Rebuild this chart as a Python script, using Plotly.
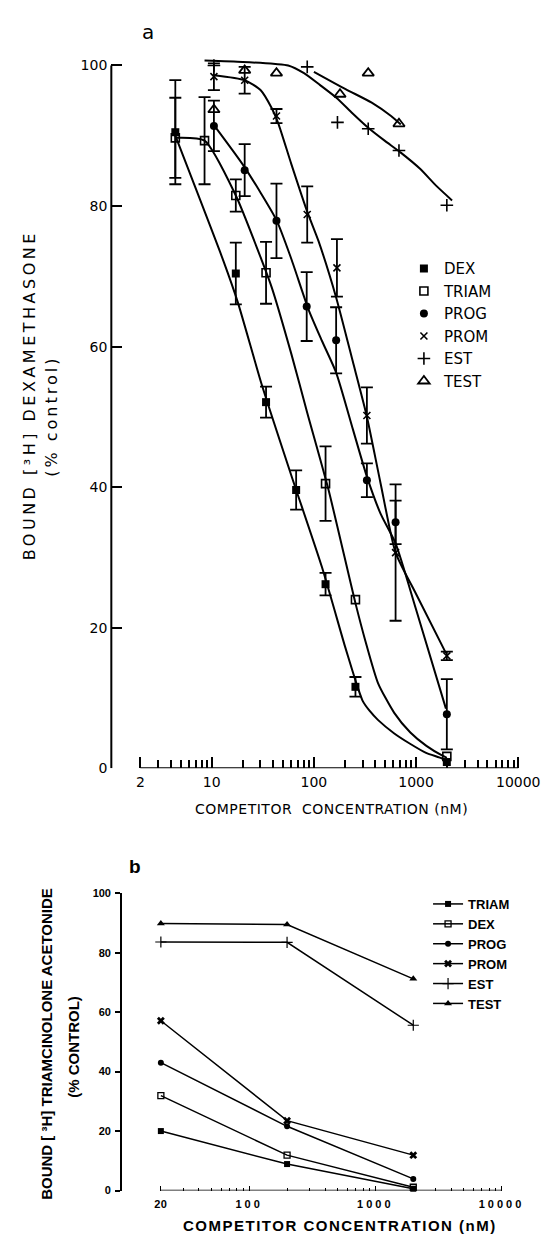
import math
import plotly.graph_objects as go

W, H = 553, 1236

# ---------------- Panel a : competitor vs [3H] dexamethasone ----------------
# measured points (nM, % control); error arrays may be shorter (trailing points w/o bars)
DEX_X = [4.4, 17.2, 34, 67, 130, 255, 2000]
DEX_Y = [90.5, 70.4, 52.1, 39.6, 26.2, 11.6, 0.9]
DEX_ERR = [7.4, 4.4, 2.2, 2.8, 1.6, 1.4]

TRIAM_X = [4.4, 8.5, 17.2, 34, 130, 255, 2000]
TRIAM_Y = [89.7, 89.3, 81.5, 70.5, 40.5, 24.0, 1.7]
TRIAM_ERR = [5.7, 6.2, 2.3, 4.4, 5.3]

PROG_X = [10.5, 21, 43, 85, 165, 330, 630, 2000]
PROG_Y = [91.4, 85.1, 77.9, 65.7, 60.9, 41.0, 35.0, 7.7]
PROG_ERR = [3.6, 3.7, 5.3, 4.9, 4.7, 2.4, 3.1, 5.0]

PROM_X = [10.5, 21, 43, 86, 168, 330, 630, 2000]
PROM_Y = [98.4, 97.9, 92.8, 78.8, 71.2, 50.2, 30.7, 16.0]
PROM_ERR = [1.9, 1.9, 1.0, 4.0, 4.1, 4.0, 9.7, 0.6]

EST_X = [10.5, 86, 170, 340, 680, 2000]
EST_Y = [100.0, 99.8, 91.9, 91.0, 87.9, 80.1]

TEST_X = [10.5, 21, 43, 180, 340, 680]
TEST_Y = [93.7, 99.3, 98.9, 95.9, 98.9, 91.7]

# fitted curves drawn in the figure
DEX_FIT_X = [4.4, 13, 18, 31, 60, 120, 200, 237, 270, 300, 350, 423, 607, 873, 1253, 1800, 2000]
DEX_FIT_Y = [90.0, 72.2, 66.3, 54.5, 41.7, 28.6, 17.5, 14.0, 11.4, 9.6, 8.2, 6.9, 5.0, 3.5, 2.2, 1.4, 1.0]
TRIAM_FIT_X = [4.4, 8.5, 17.2, 31, 38.7, 60, 86, 138, 256, 318, 425, 611, 879, 1262, 1811, 2000]
TRIAM_FIT_Y = [89.7, 89.3, 81.5, 72.2, 68.4, 59.0, 50.6, 39.8, 23.4, 18.2, 12.1, 7.9, 5.1, 3.2, 1.8, 1.5]
PROG_FIT_X = [10.5, 21, 43, 60, 89, 120, 165, 240, 330, 450, 630, 1000, 1960]
PROG_FIT_Y = [91.5, 85.5, 78.0, 72.5, 65.2, 60.8, 56.3, 48.3, 41.5, 36.2, 32.0, 22.6, 8.5]
PROM_FIT_X = [10.5, 21, 30, 38.7, 44.7, 60, 86, 111, 165, 240, 328, 450, 630, 1000, 1960]
PROM_FIT_Y = [98.6, 97.9, 96.5, 93.9, 91.8, 86.0, 79.2, 75.0, 67.0, 57.9, 50.2, 40.5, 30.7, 24.8, 16.4]
EST_FIT_X = [8.5, 20, 42, 56, 80, 115, 166, 238, 342, 492, 708, 1094, 1570, 2250]
EST_FIT_Y = [100.7, 100.5, 100.2, 100.0, 98.9, 97.2, 95.4, 93.2, 91.1, 89.3, 87.6, 85.3, 82.9, 80.8]
TEST_FIT_X = [100, 206, 368, 569, 708]
TEST_FIT_Y = [99.1, 96.6, 94.7, 92.8, 91.6]

A_XTICKS = [2, 10, 100, 1000, 10000]
A_XMINOR = [3, 4, 5, 6, 7, 8, 9, 20, 30, 40, 50, 60, 70, 80, 90,
            200, 300, 400, 500, 600, 700, 800, 900,
            2000, 3000, 4000, 5000, 6000, 7000, 8000, 9000]
A_YTICKS = [0, 20, 40, 60, 80, 100]

# ---------------- Panel b : competitor vs [3H] triamcinolone acetonide ----------------
B_X = [20, 200, 2000]
B_TRIAM = [20.0, 8.9, 0.6]
B_DEX = [31.9, 11.9, 1.1]
B_PROG = [43.0, 21.6, 3.9]
B_PROM = [57.1, 23.5, 11.9]
B_EST = [83.6, 83.5, 55.6]
B_TEST = [89.8, 89.5, 71.2]

B_XTICKS = [20, 100, 1000, 10000]
B_XMINOR = [30, 40, 50, 60, 70, 80, 90, 200, 300, 400, 500, 600, 700, 800, 900,
            2000, 3000, 4000, 5000, 6000, 7000, 8000, 9000]
B_YTICKS = [0, 20, 40, 60, 80, 100]

# ---------------- layout geometry (pixels) ----------------
def px(x):
    return x / W

def py(y):
    return 1 - y / H

A_LEFT, A_RIGHT, A_TOP, A_BOT = 107, 532, 30.7, 763
A_XRANGE = [1 + (A_LEFT - 211) / 105.8, 1 + (A_RIGHT - 211) / 105.8]
A_YRANGE = [0, 103]

B_LEFT, B_RIGHT, B_TOP, B_BOT = 118, 520, 889.3, 1190
B_XRANGE = [math.log10(20) - (158.3 - B_LEFT) / 130.7, math.log10(20) + (B_RIGHT - 158.3) / 130.7]
B_YRANGE = [0, 100]

FA = "DejaVu Sans"
FB = "Liberation Sans"
BLACK = "black"

fig = go.Figure()

# curves for panel a
for fx, fy in [(DEX_FIT_X, DEX_FIT_Y), (TRIAM_FIT_X, TRIAM_FIT_Y), (PROG_FIT_X, PROG_FIT_Y),
               (PROM_FIT_X, PROM_FIT_Y), (EST_FIT_X, EST_FIT_Y), (TEST_FIT_X, TEST_FIT_Y)]:
    fig.add_trace(go.Scatter(x=fx, y=fy, mode="lines", xaxis="x", yaxis="y",
                             line=dict(color=BLACK, width=2, shape="spline", smoothing=0.6),
                             showlegend=False, hoverinfo="skip", cliponaxis=False))

def err(e):
    return dict(type="data", array=e, visible=True, color=BLACK, thickness=1.8, width=6)

series_a = [
    ("DEX", DEX_X, DEX_Y, DEX_ERR, dict(symbol="square", size=8, color=BLACK)),
    ("TRIAM", TRIAM_X, TRIAM_Y, TRIAM_ERR, dict(symbol="square-open", size=8, color=BLACK, line=dict(width=1.6, color=BLACK))),
    ("PROG", PROG_X, PROG_Y, PROG_ERR, dict(symbol="circle", size=8, color=BLACK)),
    ("PROM", PROM_X, PROM_Y, PROM_ERR, dict(symbol="x-thin-open", size=7, color=BLACK, line=dict(width=1.6, color=BLACK))),
    ("EST", EST_X, EST_Y, None, dict(symbol="cross-thin-open", size=9, color=BLACK, line=dict(width=1.6, color=BLACK))),
    ("TEST", TEST_X, TEST_Y, None, dict(symbol="triangle-up-open", size=10, color=BLACK, line=dict(width=1.8, color=BLACK))),
]
for name, x, y, e, mk in series_a:
    fig.add_trace(go.Scatter(x=x, y=y, mode="markers", name=name, xaxis="x", yaxis="y",
                             marker=mk, error_y=err(e) if e else None,
                             legend="legend", cliponaxis=False, hoverinfo="skip"))

# panel b
series_b = [
    ("TRIAM", B_TRIAM, dict(symbol="square", size=6, color=BLACK)),
    ("DEX", B_DEX, dict(symbol="square-open", size=6, color=BLACK, line=dict(width=1.3, color=BLACK))),
    ("PROG", B_PROG, dict(symbol="circle", size=6, color=BLACK)),
    ("PROM", B_PROM, dict(symbol="x", size=7, color=BLACK)),
    ("EST", B_EST, dict(symbol="cross-thin-open", size=8, color=BLACK, line=dict(width=1.2, color=BLACK))),
    ("TEST", B_TEST, dict(symbol="triangle-up", size=7, color=BLACK)),
]
for name, y, mk in series_b:
    fig.add_trace(go.Scatter(x=B_X, y=y, mode="lines+markers", name=name, xaxis="x2", yaxis="y2",
                             line=dict(color=BLACK, width=1.5), marker=mk,
                             legend="legend2", cliponaxis=False, hoverinfo="skip"))

def xdom(v, rng):
    return (math.log10(v) - rng[0]) / (rng[1] - rng[0])

shapes = [
    # panel a axis lines
    dict(type="line", xref="x domain", yref="y", x0=0, x1=0, y0=A_YTICKS[0], y1=A_YTICKS[-1],
         line=dict(color=BLACK, width=2)),
    dict(type="line", xref="x domain", yref="y", x0=xdom(A_XTICKS[0], A_XRANGE), x1=xdom(A_XTICKS[-1], A_XRANGE),
         y0=0, y1=0, line=dict(color=BLACK, width=2)),
    # panel b x axis line
    dict(type="line", xref="x2 domain", yref="y2", x0=xdom(B_XTICKS[0], B_XRANGE), x1=xdom(B_XTICKS[-1], B_XRANGE),
         y0=0, y1=0, line=dict(color=BLACK, width=1.5)),
]

def ls(t, s):
    return f'<span style="letter-spacing:{s}px">{t}</span>'

annotations = [
    dict(text="a", x=px(145), y=py(18), xref="paper", yref="paper", showarrow=False,
         font=dict(family=FA, size=20, color=BLACK), xanchor="center", yanchor="middle"),
    dict(text=ls("BOUND [³H] DEXAMETHASONE", 3.5), x=px(22.5), y=py(386), xref="paper", yref="paper",
         showarrow=False, textangle=-90, font=dict(family=FA, size=16, color=BLACK),
         xanchor="center", yanchor="middle"),
    dict(text=ls("(% control)", 3), x=px(45), y=py(407), xref="paper", yref="paper",
         showarrow=False, textangle=-90, font=dict(family=FA, size=16, color=BLACK),
         xanchor="center", yanchor="middle"),
    dict(text=ls("COMPETITOR  CONCENTRATION (nM)", 0.5), x=px(335), y=py(804), xref="paper", yref="paper",
         showarrow=False, font=dict(family=FA, size=14, color=BLACK), xanchor="center", yanchor="middle"),
    dict(text="b", x=px(132), y=py(862), xref="paper", yref="paper", showarrow=False,
         font=dict(family=FB, size=19, color=BLACK, weight="bold"), xanchor="center", yanchor="middle"),
    dict(text="BOUND [ ³H] TRIAMCINOLONE ACETONIDE", x=px(40), y=py(1042), xref="paper", yref="paper",
         showarrow=False, textangle=-90, font=dict(family=FB, size=15, color=BLACK, weight="bold"),
         xanchor="center", yanchor="middle"),
    dict(text="(% CONTROL)", x=px(67), y=py(1045), xref="paper", yref="paper",
         showarrow=False, textangle=-90, font=dict(family=FB, size=15, color=BLACK, weight="bold"),
         xanchor="center", yanchor="middle"),
    dict(text=ls("COMPETITOR CONCENTRATION (nM)", 1.5), x=px(344), y=py(1225), xref="paper", yref="paper",
         showarrow=False, font=dict(family=FB, size=15, color=BLACK, weight="bold"),
         xanchor="center", yanchor="middle"),
]

fig.update_layout(
    width=W, height=H, autosize=False,
    margin=dict(l=0, r=0, t=0, b=0, pad=0),
    paper_bgcolor="white", plot_bgcolor="white",
    showlegend=True,
    shapes=shapes, annotations=annotations,
    xaxis=dict(type="log", range=A_XRANGE, domain=[px(A_LEFT), px(A_RIGHT)], anchor="y",
               showline=False, showgrid=False, zeroline=False,
               tickmode="array", tickvals=A_XTICKS, ticktext=[str(v) for v in A_XTICKS],
               ticks="inside", ticklen=11, tickwidth=1.8, tickcolor=BLACK, ticklabelstandoff=4,
               tickfont=dict(family=FA, size=14, color=BLACK),
               minor=dict(tickmode="array", tickvals=A_XMINOR, ticks="inside", ticklen=8,
                          tickwidth=1.5, tickcolor=BLACK, showgrid=False)),
    yaxis=dict(range=A_YRANGE, domain=[py(A_BOT), py(A_TOP)], anchor="x",
               showline=False, showgrid=False, zeroline=False,
               tickmode="array", tickvals=A_YTICKS, ticks="inside", ticklen=11, tickwidth=1.8,
               tickcolor=BLACK, ticklabelstandoff=3,
               tickfont=dict(family=FA, size=14, color=BLACK)),
    xaxis2=dict(type="log", range=B_XRANGE, domain=[px(B_LEFT), px(B_RIGHT)], anchor="y2",
                showline=False, showgrid=False, zeroline=False,
                tickmode="array", tickvals=B_XTICKS,
                ticktext=[ls(str(v), 3 if v >= 100 else 0.5) for v in B_XTICKS],
                ticks="inside", ticklen=5, tickwidth=1.3, tickcolor=BLACK, ticklabelstandoff=5,
                tickfont=dict(family=FB, size=11, color=BLACK, weight="bold"),
                minor=dict(tickmode="array", tickvals=B_XMINOR, ticks="inside", ticklen=3,
                           tickwidth=1, tickcolor=BLACK, showgrid=False)),
    yaxis2=dict(range=B_YRANGE, domain=[py(B_BOT), py(B_TOP)], anchor="x2",
                showline=True, linecolor=BLACK, linewidth=1.5, showgrid=False, zeroline=False,
                tickmode="array", tickvals=B_YTICKS, ticks="outside", ticklen=5, tickwidth=1.5,
                tickcolor=BLACK, ticklabelstandoff=2,
                tickfont=dict(family=FB, size=11, color=BLACK, weight="bold")),
    legend=dict(x=px(410), y=py(241), xanchor="left", yanchor="top", bgcolor="rgba(0,0,0,0)",
                borderwidth=0, font=dict(family=FA, size=15, color=BLACK), traceorder="normal"),
    legend2=dict(x=px(435), y=py(885), xanchor="left", yanchor="top", bgcolor="rgba(0,0,0,0)",
                 borderwidth=0, font=dict(family=FB, size=13, color=BLACK, weight="bold"),
                 traceorder="normal"),
)

fig.write_html("out.html")
